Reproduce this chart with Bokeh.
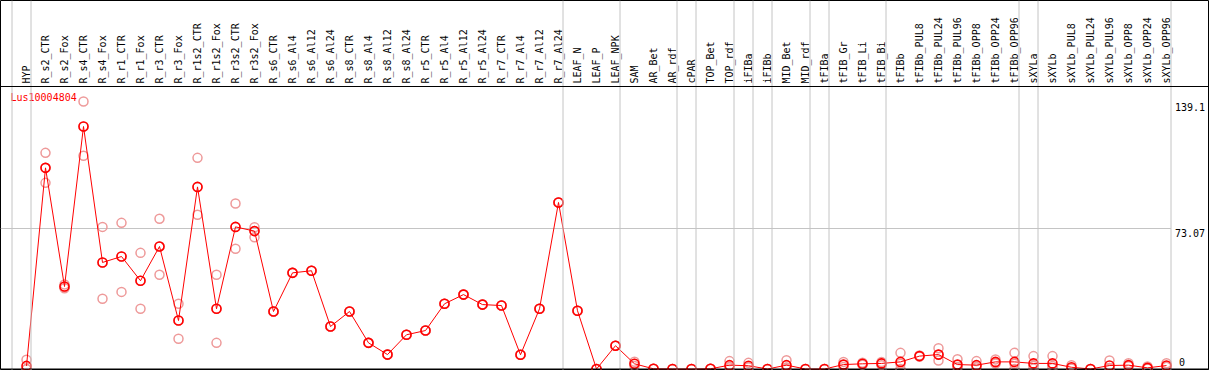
import math
from bokeh.plotting import figure
from bokeh.models import Range1d, Span
from bokeh.core.properties import value
from bokeh.embed import file_html
from bokeh.resources import INLINE

# ---------------- data ----------------
categories = ["HYP",
              "R_s2_CTR", "R_s2_Fox", "R_s4_CTR", "R_s4_Fox", "R_r1_CTR", "R_r1_Fox",
              "R_r3_CTR", "R_r3_Fox", "R_r1s2_CTR", "R_r1s2_Fox", "R_r3s2_CTR", "R_r3s2_Fox",
              "R_s6_CTR", "R_s6_Al4", "R_s6_Al12", "R_s6_Al24", "R_s8_CTR", "R_s8_Al4",
              "R_s8_Al12", "R_s8_Al24", "R_r5_CTR", "R_r5_Al4", "R_r5_Al12", "R_r5_Al24",
              "R_r7_CTR", "R_r7_Al4", "R_r7_Al12", "R_r7_Al24",
              "LEAF_N", "LEAF_P", "LEAF_NPK",
              "SAM", "AR_Bet", "AR_rdf",
              "cPAR",
              "TOP_Bet", "TOP_rdf",
              "iFIBa",
              "iFIBb",
              "MID_Bet", "MID_rdf",
              "tFIBa",
              "tFIB_Gr", "tFIB_Li", "tFIB_Bi",
              "tFIBb", "tFIBb_PUL8", "tFIBb_PUL24", "tFIBb_PUL96", "tFIBb_OPP8",
              "tFIBb_OPP24", "tFIBb_OPP96",
              "sXYLa",
              "sXYLb", "sXYLb_PUL8", "sXYLb_PUL24", "sXYLb_PUL96", "sXYLb_OPP8",
              "sXYLb_OPP24", "sXYLb_OPP96"]

group_sizes = [1, 28, 3, 3, 1, 2, 1, 1, 2, 1, 3, 7, 1, 7]

series_name = "Lus10004804"

mean_values = [1.6, 104.6, 42.9, 126.1, 55.4, 58.5, 45.9, 63.7, 25.2, 94.7, 31.3, 73.9, 71.7,
               29.9, 50.0, 51.1, 22.1, 29.9, 13.6, 7.5, 17.8, 20.0, 33.9, 38.7, 33.5,
               33.0, 7.4, 31.3, 86.6,
               30.3, 0.0, 12.1,
               2.7, 0.1, 0.0,
               0.0,
               0.1, 2.0,
               1.7,
               0.0,
               2.0, 0.0,
               0.0,
               2.3, 2.7, 2.9,
               3.7, 6.7, 7.5, 2.3, 2.0, 3.7, 3.7,
               2.9,
               2.9, 0.9, 0.0, 1.8, 2.0, 0.6, 1.8]

rep_a = [4.8, 112.4, 44.0, 139.1, 73.9, 76.0, 60.4, 78.1, 33.9, 109.8, 49.0, 86.1, 73.7,
         29.9, 50.0, 51.1, 22.1, 29.9, 13.6, 7.5, 17.8, 20.0, 33.9, 38.7, 33.5,
         33.0, 7.4, 31.3, 86.6,
         30.3, 0.0, 12.1,
         3.8, 0.1, 0.0,
         0.0,
         0.1, 4.1,
         3.2,
         0.0,
         4.6, 0.0,
         0.0,
         3.7, 3.3, 3.7,
         8.4, 7.0, 10.8, 5.1, 4.1, 5.0, 8.4,
         6.7,
         6.7, 2.0, 0.0, 4.4, 3.0, 1.3, 3.0]

rep_b = [0.0, 96.8, 42.0, 110.9, 36.5, 40.1, 31.3, 49.0, 15.7, 80.2, 13.6, 62.5, 68.5,
         29.9, 50.0, 51.1, 22.1, 29.9, 13.6, 7.5, 17.8, 20.0, 33.9, 38.7, 33.5,
         33.0, 7.4, 31.3, 86.6,
         30.3, 0.0, 12.1,
         1.6, 0.1, 0.0,
         0.0,
         0.1, 1.0,
         1.0,
         0.0,
         0.8, 0.0,
         0.0,
         1.0, 2.2, 2.0,
         0.0, 6.5, 4.4, 0.8, 1.0, 2.9, 0.0,
         0.3,
         0.5, 0.4, 0.0, 0.5, 1.5, 0.3, 1.2]

rep_c = [0.0, 104.6, 42.7, 126.1, 55.4, 58.5, 45.9, 63.7, 25.2, 94.7, 31.3, 73.9, 71.7,
         29.9, 50.0, 51.1, 22.1, 29.9, 13.6, 7.5, 17.8, 20.0, 33.9, 38.7, 33.5,
         33.0, 7.4, 31.3, 86.6,
         30.3, 0.0, 12.1,
         2.7, 0.1, 0.0,
         0.0,
         0.1, 0.9,
         0.9,
         0.0,
         0.6, 0.0,
         0.0,
         2.2, 2.6, 3.0,
         2.7, 6.6, 7.4, 1.0, 0.9, 3.2, 2.7,
         1.7,
         1.5, 0.3, 0.0, 0.5, 1.5, 0.2, 1.2]

ytick_values = [0, 73.07, 139.1]
ytick_labels = ["0", "73.07", "139.1"]

# ---------------- layout ----------------
W, H = 1209, 370
FONT = value("DejaVu Sans Mono")
RED = "#FF0000"
PALE = "#EE9A9A"
GRID = "#C4C4C4"

n = len(categories)
xs = list(range(n))
x0, x1 = -26 / 19, (1209 - 26) / 19
y0, y1 = -1.5 / 1.923, 368.5 / 1.923
header_y = 282.5 / 1.923  # header separator line (data units)

p = figure(width=W, height=H, output_backend="svg", toolbar_location=None,
           x_range=Range1d(x0, x1), y_range=Range1d(y0, y1),
           min_border=0, min_border_left=0, min_border_right=0,
           min_border_top=0, min_border_bottom=0)
p.axis.visible = False
p.xgrid.visible = False
p.ygrid.visible = False
p.outline_line_color = "black"
p.outline_line_width = 1
p.background_fill_color = "white"
p.border_fill_color = "white"

# group separators
bounds = [-1]
acc = -1
for g in group_sizes:
    acc += g
    bounds.append(acc)
for b in bounds:
    p.add_layout(Span(location=b + 0.237, dimension="height",
                      line_color=GRID, line_width=1))

# horizontal grid line at middle tick
last_sep = bounds[-1] + 0.237
p.segment(x0=[x0], y0=[ytick_values[1]], x1=[last_sep], y1=[ytick_values[1]],
          line_color=GRID, line_width=1)

# header line and bottom line
p.add_layout(Span(location=header_y, dimension="width", line_color="black", line_width=1))
p.add_layout(Span(location=0, dimension="width", line_color="black", line_width=1))

# category labels (vertical)
p.text(x=xs, y=[header_y] * n, text=categories, angle=math.pi / 2,
       text_align="left", text_baseline="middle", y_offset=-3,
       text_font=FONT, text_font_size="10px", text_color="black")

# replicates
for rep in (rep_a, rep_b, rep_c):
    p.scatter(x=xs, y=rep, marker="circle", size=9, fill_color=None,
              line_color=PALE, line_width=1.5)

# mean line + points
p.line(x=xs, y=mean_values, line_color=RED, line_width=1)
p.scatter(x=xs, y=mean_values, marker="circle", size=9, fill_color=None,
          line_color=RED, line_width=1.6)

# series label
p.text(x=[x0], y=[header_y], text=[series_name], x_offset=10, y_offset=11,
       text_align="left", text_baseline="middle",
       text_font=FONT, text_font_size="10px", text_color=RED)

# y tick labels on the right
for v, lab in zip(ytick_values, ytick_labels):
    if v == 0:
        p.text(x=[last_sep], y=[v], text=[lab], x_offset=8, y_offset=-3,
               text_align="left", text_baseline="bottom",
               text_font=FONT, text_font_size="10px", text_color="black")
    else:
        p.text(x=[last_sep], y=[v], text=[lab], x_offset=4, y_offset=1,
               text_align="left", text_baseline="top",
               text_font=FONT, text_font_size="10px", text_color="black")

open("out.html", "w").write(file_html(p, INLINE))
